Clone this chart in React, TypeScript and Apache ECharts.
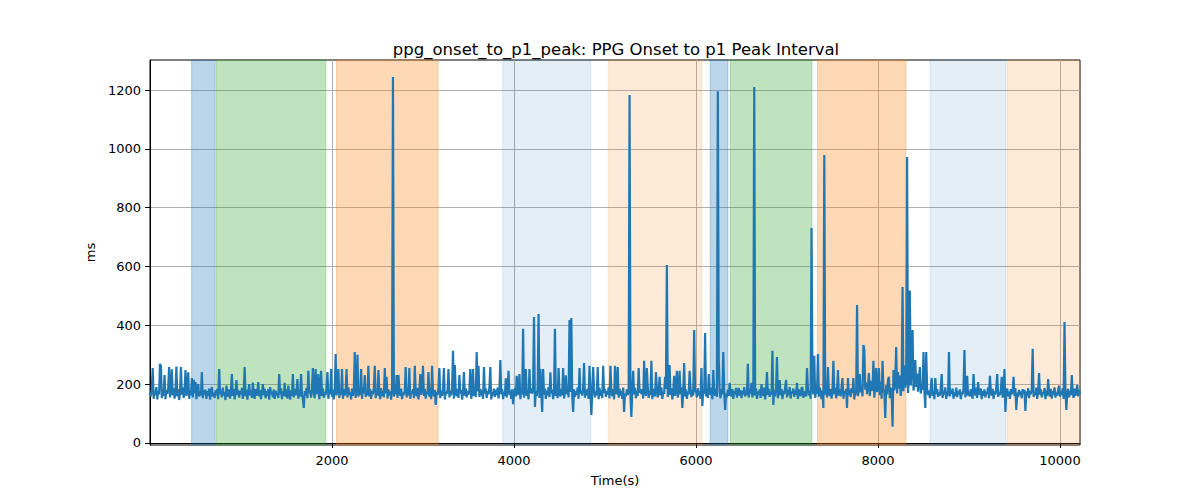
import React, { useEffect, useRef } from "react";
import * as echarts from "echarts";

const TITLE = "ppg_onset_to_p1_peak: PPG Onset to p1 Peak Interval";
const X_NAME = "Time(s)";
const Y_NAME = "ms";

// sampling step of the series (s) and length of one row below (s)
const STEP = 10;
const ROW_SPAN = 600;

// values (ms), one row per 600 s
const v0000 = [172, 158, 185, 255, 150, 178, 162, 190, 148, 176, 165, 269, 262, 152, 183, 160, 231, 149, 180, 166, 188, 258, 155, 177, 250, 162, 186, 151, 174, 260, 158, 183, 146, 170, 258, 164, 189, 153, 178, 248, 160, 182, 240, 150, 175, 163, 221, 155, 215, 168, 207, 149, 184, 200, 158, 176, 161, 241, 152, 180];
const v0600 = [165, 181, 150, 176, 160, 185, 147, 172, 190, 158, 170, 153, 179, 162, 184, 149, 251, 166, 175, 155, 188, 161, 173, 146, 195, 168, 157, 182, 151, 177, 234, 160, 183, 148, 171, 214, 163, 180, 154, 176, 166, 187, 150, 174, 258, 159, 181, 147, 172, 200, 162, 178, 153, 205, 169, 150, 183, 160, 175, 207];
const v1200 = [158, 180, 149, 172, 200, 163, 185, 152, 176, 160, 183, 147, 190, 166, 174, 155, 181, 150, 178, 162, 170, 153, 234, 165, 186, 149, 175, 160, 204, 157, 182, 151, 195, 168, 147, 179, 160, 234, 155, 184, 163, 171, 217, 150, 180, 158, 234, 165, 148, 119, 176, 161, 187, 152, 245, 169, 178, 154, 183, 255];
const v1800 = [170, 152, 251, 165, 183, 234, 149, 176, 245, 160, 185, 154, 172, 163, 188, 241, 150, 179, 166, 251, 157, 181, 148, 174, 302, 162, 186, 251, 153, 177, 165, 251, 150, 183, 161, 176, 251, 155, 189, 164, 172, 148, 185, 160, 178, 309, 153, 182, 300, 158, 175, 164, 251, 150, 187, 169, 231, 156, 180, 162];
const v2400 = [262, 158, 183, 150, 176, 165, 188, 262, 152, 179, 161, 248, 173, 149, 186, 160, 177, 155, 255, 168, 225, 151, 182, 163, 175, 147, 190, 1244, 158, 174, 166, 231, 153, 231, 180, 160, 185, 149, 172, 163, 178, 258, 155, 186, 161, 255, 150, 176, 168, 183, 152, 262, 170, 159, 187, 148, 175, 234, 164, 181];
const v3000 = [262, 160, 184, 151, 175, 166, 241, 157, 187, 149, 262, 170, 158, 181, 129, 174, 163, 188, 255, 152, 178, 160, 185, 255, 148, 173, 166, 182, 251, 155, 176, 162, 189, 313, 150, 265, 171, 159, 184, 153, 231, 168, 180, 147, 174, 241, 161, 186, 155, 177, 164, 182, 251, 150, 173, 251, 160, 188, 156, 309];
const v3600 = [175, 262, 156, 184, 162, 179, 150, 258, 168, 186, 153, 177, 165, 190, 258, 148, 173, 161, 185, 157, 180, 163, 188, 151, 176, 282, 166, 183, 149, 174, 160, 220, 155, 187, 245, 164, 178, 150, 182, 132, 170, 186, 158, 228, 163, 181, 234, 149, 175, 166, 388, 154, 183, 251, 160, 177, 148, 251, 169, 185];
const v4200 = [168, 183, 428, 122, 176, 159, 188, 438, 153, 251, 172, 105, 251, 164, 185, 150, 178, 162, 190, 156, 240, 168, 181, 149, 175, 388, 160, 186, 152, 255, 170, 158, 184, 163, 255, 151, 179, 230, 166, 187, 155, 418, 173, 425, 160, 105, 182, 157, 176, 164, 189, 150, 255, 168, 177, 161, 185, 272, 154, 180];
const v4800 = [162, 185, 150, 262, 176, 95, 168, 258, 181, 155, 174, 163, 258, 149, 187, 160, 178, 152, 262, 170, 184, 157, 176, 165, 189, 151, 262, 173, 160, 183, 148, 262, 171, 166, 258, 154, 185, 161, 177, 150, 188, 105, 169, 158, 182, 163, 175, 1183, 156, 88, 180, 245, 165, 187, 152, 176, 160, 255, 171, 184];
const v5400 = [166, 182, 151, 279, 174, 160, 255, 187, 153, 178, 164, 279, 149, 185, 170, 158, 241, 181, 155, 176, 225, 162, 188, 150, 173, 167, 225, 184, 605, 157, 179, 265, 163, 186, 148, 175, 228, 160, 183, 245, 154, 171, 245, 166, 189, 119, 177, 272, 158, 182, 150, 174, 165, 245, 187, 156, 180, 161, 384, 172];
const v6000 = [178, 155, 186, 162, 175, 150, 255, 126, 181, 167, 374, 158, 184, 153, 234, 172, 163, 188, 149, 248, 176, 160, 185, 157, 1196, 286, 170, 152, 183, 165, 309, 178, 112, 168, 155, 181, 160, 204, 172, 158, 183, 150, 176, 166, 187, 154, 174, 187, 161, 180, 152, 177, 165, 190, 158, 173, 163, 269, 155, 182];
const v6600 = [168, 204, 155, 179, 1210, 161, 185, 150, 174, 166, 182, 153, 200, 171, 160, 188, 148, 176, 241, 163, 184, 157, 173, 165, 313, 129, 180, 158, 186, 292, 152, 175, 214, 162, 183, 149, 177, 166, 189, 214, 155, 180, 163, 190, 151, 174, 168, 185, 157, 178, 164, 204, 150, 182, 170, 159, 187, 187, 153, 176];
const v7200 = [170, 158, 255, 183, 162, 177, 150, 731, 186, 165, 296, 153, 180, 168, 302, 157, 189, 172, 149, 178, 119, 979, 164, 187, 155, 258, 173, 160, 184, 151, 176, 279, 166, 188, 152, 174, 248, 161, 182, 158, 190, 221, 150, 175, 167, 184, 119, 221, 163, 180, 156, 186, 170, 221, 148, 177, 165, 469, 159, 183];
const v7800 = [234, 172, 190, 158, 333, 316, 181, 205, 166, 193, 238, 160, 211, 177, 186, 279, 154, 200, 255, 173, 191, 255, 162, 208, 150, 279, 183, 170, 85, 196, 165, 214, 225, 152, 188, 174, 55, 248, 179, 210, 326, 168, 241, 185, 229, 160, 199, 530, 176, 263, 188, 215, 972, 170, 232, 518, 195, 258, 384, 178];
const v8400 = [205, 282, 190, 236, 174, 215, 258, 168, 199, 181, 309, 176, 119, 309, 185, 163, 178, 152, 184, 221, 160, 175, 149, 221, 166, 183, 157, 172, 161, 186, 234, 153, 177, 165, 189, 150, 174, 162, 309, 158, 180, 167, 185, 151, 173, 160, 188, 156, 176, 164, 182, 149, 171, 165, 186, 316, 155, 178, 228, 161];
const v9000 = [174, 158, 183, 166, 150, 234, 177, 161, 188, 153, 207, 170, 164, 185, 149, 176, 160, 182, 155, 173, 167, 189, 152, 228, 178, 161, 184, 150, 175, 165, 186, 234, 157, 172, 163, 181, 225, 154, 176, 251, 105, 168, 185, 159, 174, 150, 183, 166, 177, 225, 160, 187, 112, 171, 156, 180, 164, 175, 152, 183];
const v9600 = [168, 181, 109, 175, 160, 186, 152, 177, 165, 183, 320, 156, 174, 162, 188, 150, 176, 238, 164, 182, 155, 171, 166, 187, 149, 178, 160, 217, 173, 158, 184, 151, 176, 165, 189, 154, 172, 161, 183, 194, 157, 175, 163, 186, 150, 411, 179, 112, 168, 184, 155, 177, 162, 231, 170, 153, 185, 160, 174, 197, 158, 180, 166];

const valueRows = [v0000, v0600, v1200, v1800, v2400, v3000, v3600, v4200, v4800, v5400, v6000, v6600, v7200, v7800, v8400, v9000, v9600];

// shaded phases (s)
const spanStart = [457, 731, 2049, 3875, 5036, 6156, 6376, 7335, 8572, 9421];
const spanEnd = [717, 1932, 3166, 4846, 6065, 6351, 7273, 8306, 9407, 10220];
const spanKind = ["blue", "green", "orange", "lightBlue", "lightOrange", "blue", "green", "orange", "lightBlue", "lightOrange"];

const xTicks = [2000, 4000, 6000, 8000, 10000];
const yTicks = [0, 200, 400, 600, 800, 1000, 1200];

const X_MIN = 0;
const X_MAX = 10220;
const Y_MIN = -7;
const Y_MAX = 1302;

const spanFill: Record<string, string> = {
  blue: "rgba(31,119,180,0.3)",
  green: "rgba(44,160,44,0.3)",
  orange: "rgba(255,127,14,0.3)",
  lightBlue: "rgba(31,119,180,0.12)",
  lightOrange: "rgba(255,127,14,0.16)",
};

const FONT = "DejaVu Sans";

export default function App() {
  const ref = useRef<HTMLDivElement>(null);
  useEffect(() => {
    if (!ref.current) return;
    const chart = echarts.init(ref.current, null, { renderer: "svg" });
    const data: number[][] = [];
    valueRows.forEach((row, r) => {
      row.forEach((v, j) => data.push([r * ROW_SPAN + j * STEP, v]));
    });
    const areas = spanStart.map((s, i) => [
      {
        xAxis: s,
        itemStyle: {
          color: spanFill[spanKind[i]],
          borderColor: spanFill[spanKind[i]],
          borderWidth: 1,
        },
      },
      { xAxis: spanEnd[i] },
    ]);
    const axisCommon = {
      axisLine: { show: true, lineStyle: { color: "#000", width: 1 } },
      axisTick: { show: true, length: 5, lineStyle: { color: "#000", width: 1 } },
      splitLine: { show: true, lineStyle: { color: "#b0b0b0", width: 1 } },
      nameTextStyle: { fontFamily: FONT, fontSize: 13, color: "#000" },
    };
    const labelCommon = {
      margin: 9,
      color: "#000",
      fontFamily: FONT,
      fontSize: 13,
      formatter: (v: number) => String(v),
    };
    chart.setOption({
      animation: false,
      title: {
        text: TITLE,
        left: 611,
        top: 36,
        textAlign: "center",
        textStyle: { fontFamily: FONT, fontSize: 16.5, fontWeight: "normal", color: "#000" },
      },
      grid: {
        left: 150,
        right: 120,
        top: 60,
        bottom: 55,
        show: true,
        borderColor: "#000",
        borderWidth: 1,
        backgroundColor: "transparent",
      },
      xAxis: {
        type: "value",
        min: X_MIN,
        max: X_MAX,
        splitNumber: 5,
        minInterval: 2000,
        maxInterval: 2000,
        name: X_NAME,
        nameLocation: "middle",
        nameGap: 29,
        ...axisCommon,
        axisTick: { ...axisCommon.axisTick, customValues: xTicks },
        axisLabel: { ...labelCommon, customValues: xTicks },
      },
      yAxis: {
        type: "value",
        min: Y_MIN,
        max: Y_MAX,
        splitNumber: 6,
        minInterval: 200,
        maxInterval: 200,
        name: Y_NAME,
        nameLocation: "middle",
        nameGap: 43,
        nameRotate: 90,
        ...axisCommon,
        axisTick: { ...axisCommon.axisTick, customValues: yTicks },
        axisLabel: { ...labelCommon, customValues: yTicks },
      },
      series: [
        {
          type: "line",
          data: [],
          z: 1,
          silent: true,
          markArea: { silent: true, data: areas },
        },
        {
          type: "line",
          data,
          z: 3,
          showSymbol: false,
          symbol: "none",
          lineStyle: { color: "#1f77b4", width: 2.2, join: "miter", miterLimit: 2 },
          itemStyle: { color: "#1f77b4" },
          silent: true,
        },
      ],
    });
    return () => chart.dispose();
  }, []);
  return <div ref={ref} style={{ width: 1200, height: 500, margin: -8 }} />;
}
